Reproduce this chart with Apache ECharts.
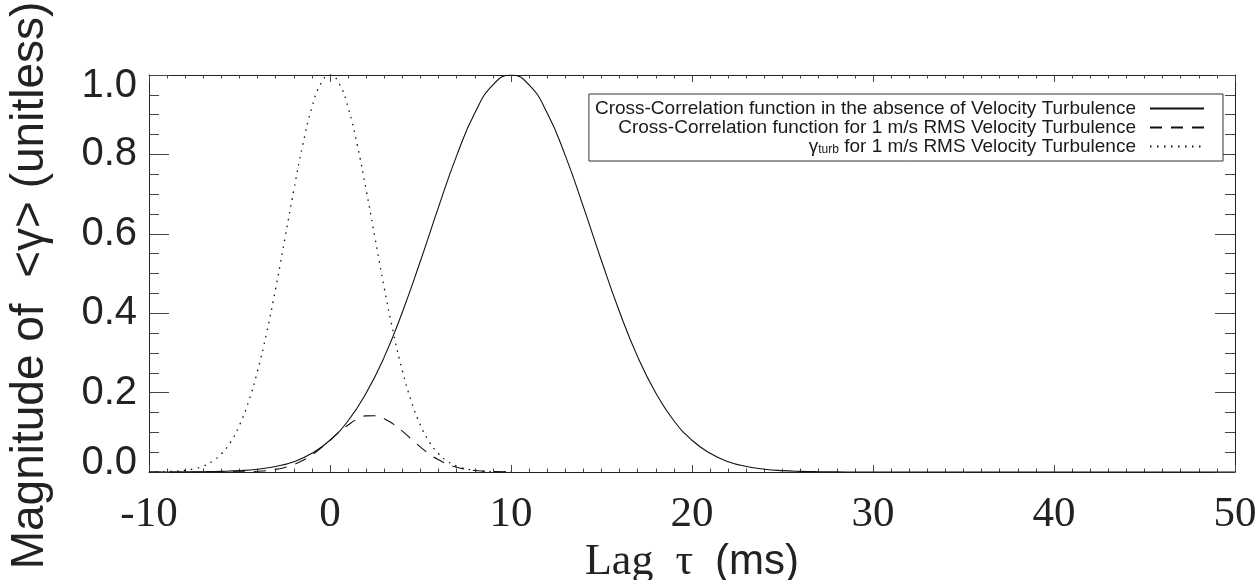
<!DOCTYPE html>
<html>
<head>
<meta charset="utf-8">
<script src="https://cdn.jsdelivr.net/npm/echarts@6/dist/echarts.min.js"></script>
<style>html,body{margin:0;padding:0;background:#fff}#c{width:1259px;height:580px}</style>
</head>
<body>
<div id="c"></div>
<script>
// ---- data ----
const xTicks = [-10, 0, 10, 20, 30, 40, 50];
const yTicks = [0.0, 0.2, 0.4, 0.6, 0.8, 1.0];

const nameSolid = 'Cross-Correlation function in the absence of Velocity Turbulence';
const nameDash = 'Cross-Correlation function for 1 m/s RMS Velocity Turbulence';
const nameDot = 'gamma_turb for 1 m/s RMS Velocity Turbulence';

const solidX = [-10,-9,-8,-7,-6,-5,-4,-3,-2,-1,0,1,2,3,4,5,6,7,8,9,10,11,12,13,14,15,16,17,18,19,20,21,22,23,24,25,26,27,28,29,30,40,50];
const solidY = [0,0.0001,0.0003,0.0007,0.0016,0.0034,0.0071,0.014,0.026,0.047,0.080,0.129,0.199,0.290,0.403,0.532,0.668,0.797,0.904,0.975,1.000,0.975,0.904,0.797,0.668,0.532,0.403,0.290,0.199,0.129,0.080,0.047,0.026,0.014,0.0071,0.0034,0.0016,0.0007,0.0003,0.0001,0,0,0];

const dashX = [-10,-8,-6,-5,-4,-3,-2.5,-2,-1.5,-1,-0.5,0,0.5,1,1.5,2,2.5,3,3.5,4,4.5,5,5.5,6,6.5,7,7.5,8,8.5,9,10];
const dashY = [0,0,0.0001,0.0004,0.0018,0.0065,0.0113,0.0185,0.0292,0.0431,0.0605,0.080,0.1002,0.1184,0.1331,0.1413,0.1416,0.1343,0.1207,0.1028,0.0825,0.0628,0.045,0.0307,0.0198,0.012,0.007,0.0038,0.002,0.001,0.0002];

const dotX = [-10,-9.5,-9,-8.5,-8,-7.5,-7,-6.5,-6,-5.5,-5,-4.5,-4,-3.5,-3,-2.5,-2,-1.5,-1,-0.5,0,0.5,1,1.5,2,2.5,3,3.5,4,4.5,5,5.5,6,6.5,7,7.5,8,8.5,9,9.5,10];
const dotY = [0.0002,0.0004,0.001,0.0021,0.0042,0.0082,0.015,0.027,0.046,0.075,0.118,0.177,0.255,0.351,0.463,0.586,0.710,0.825,0.918,0.979,1.000,0.979,0.918,0.825,0.710,0.586,0.463,0.351,0.255,0.177,0.118,0.075,0.046,0.027,0.015,0.0082,0.0042,0.0021,0.001,0.0004,0.0002];

function pairs(xs, ys) { return xs.map((x, i) => [x, ys[i]]); }

const SANS = 'Liberation Sans';
const SERIF = 'Liberation Serif';
const INK = '#111';

const chart = echarts.init(document.getElementById('c'), null, {renderer: 'canvas'});

const xBase = {
  type: 'value', min: xTicks[0], max: xTicks[xTicks.length - 1], interval: 10,
  splitLine: {show: false},
  axisLine: {show: true, onZero: false, lineStyle: {color: '#222', width: 1}},
  axisTick: {show: true, inside: true, length: 7, lineStyle: {color: '#444'}},
  minorTick: {show: true, splitNumber: 10, length: 3.5, lineStyle: {color: '#444'}},
  minorSplitLine: {show: false}
};
const yBase = {
  type: 'value', min: 0, max: 1, interval: 0.2,
  splitLine: {show: false},
  axisLine: {show: true, onZero: false, lineStyle: {color: '#222', width: 1}},
  axisTick: {show: true, inside: true, length: 20, lineStyle: {color: '#444'}},
  minorTick: {show: true, splitNumber: 4, length: 10, lineStyle: {color: '#444'}},
  minorSplitLine: {show: false}
};

chart.setOption({
  animation: false,
  backgroundColor: '#fff',
  grid: {left: 149, right: 24, top: 75, bottom: 108, containLabel: false, outerBoundsMode: 'none'},
  legend: {
    orient: 'vertical', right: 36, top: 94, align: 'right',
    backgroundColor: '#fff', borderColor: '#333', borderWidth: 1,
    padding: [5, 18, 5, 6], itemGap: 0, itemWidth: 54, itemHeight: 14,
    itemStyle: {opacity: 0},
    data: [nameSolid, nameDash, nameDot],
    formatter: function (n) {
      if (n === nameDot) return '{g|γ}{s|turb}{t| for 1 m/s RMS Velocity Turbulence}';
      return n;
    },
    textStyle: {
      fontFamily: SANS, fontSize: 19, color: '#1a1a1a', width: 549, overflow: 'none', align: 'right', padding: [0, 9, 0, 0],
      rich: {
        g: {fontFamily: SANS, fontSize: 19, color: '#1a1a1a'},
        s: {fontFamily: SANS, fontSize: 12, color: '#1a1a1a', verticalAlign: 'bottom', padding: [7, 0, 0, 0]},
        t: {fontFamily: SANS, fontSize: 19, color: '#1a1a1a'}
      }
    }
  },
  xAxis: [
    Object.assign({}, xBase, {
      position: 'bottom',
      axisLabel: {show: true, margin: 21, fontFamily: SERIF, fontSize: 43, color: '#222',
        formatter: v => String(v)},
      name: '{s|Lag  τ  }{a|(ms)}', nameLocation: 'middle', nameGap: 62,
      nameTextStyle: {rich: {
        s: {fontFamily: SERIF, fontSize: 44, color: '#222'},
        a: {fontFamily: SANS, fontSize: 42, color: '#222'}
      }}
    }),
    Object.assign({}, xBase, {position: 'top', axisLabel: {show: false}})
  ],
  yAxis: [
    Object.assign({}, yBase, {
      position: 'left',
      axisLabel: {show: true, margin: 12,
        formatter: function (v) {
          const s = v.toFixed(1);
          if (Math.abs(v - 1) < 1e-9) return '{d|' + s + '}';
          if (Math.abs(v) < 1e-9) return '{u|' + s + '}';
          return '{n|' + s + '}';
        },
        rich: {
          n: {fontFamily: SANS, fontSize: 40, color: '#222'},
          d: {fontFamily: SANS, fontSize: 40, color: '#222', padding: [22, 0, 0, 0]},
          u: {fontFamily: SANS, fontSize: 40, color: '#222', padding: [0, 0, 18, 0]}
        }
      },
      name: 'Magnitude of  <γ> (unitless)', nameLocation: 'middle', nameGap: 96,
      nameTextStyle: {fontFamily: SANS, fontSize: 46, color: '#222', padding: [0, 24, 0, 0]}
    }),
    Object.assign({}, yBase, {position: 'right', axisLabel: {show: false}})
  ],
  series: [
    {name: nameSolid, type: 'line', xAxisIndex: 0, yAxisIndex: 0, data: pairs(solidX, solidY),
      symbol: 'none', showSymbol: false, smooth: 0.5, lineStyle: {color: INK, width: 1.1, type: 'solid'}, itemStyle: {color: INK, opacity: 0}, z: 3},
    {name: nameDash, type: 'line', xAxisIndex: 0, yAxisIndex: 0, data: pairs(dashX, dashY),
      symbol: 'none', showSymbol: false, smooth: 0.5, lineStyle: {color: INK, width: 1.1, type: [12, 9]}, itemStyle: {color: INK, opacity: 0}, z: 3},
    {name: nameDot, type: 'line', xAxisIndex: 0, yAxisIndex: 0, data: pairs(dotX, dotY),
      symbol: 'none', showSymbol: false, smooth: 0.5, lineStyle: {color: INK, width: 1.3, type: [1.5, 5.5]}, itemStyle: {color: INK, opacity: 0}, z: 3}
  ]
});
</script>
</body>
</html>
